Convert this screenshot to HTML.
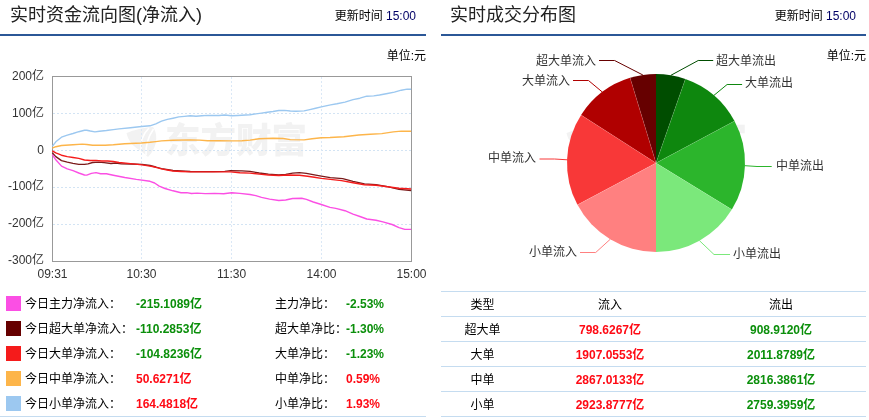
<!DOCTYPE html>
<html><head><meta charset="utf-8">
<style>
html,body{margin:0;padding:0;background:#fff;}
body{width:869px;height:420px;position:relative;overflow:hidden;font-family:"Liberation Sans","Noto Sans CJK SC",sans-serif;font-size:12px;color:#000;}
.abs{position:absolute;white-space:nowrap;}
.title{font-size:18px;line-height:24px;top:3px;color:#222;font-family:"Liberation Sans","Noto Sans CJK SC",sans-serif;}
.upd{font-size:12px;line-height:16px;top:8px;color:#000;}
.upd b{font-weight:normal;color:#000066;}
.bar{position:absolute;height:2px;top:34px;background:#2b5797;}
.unit{font-size:12px;line-height:16px;top:48px;}
.row{position:absolute;left:0;width:426px;height:25px;}
.sq{position:absolute;left:6px;top:5px;width:15px;height:15px;}
.lab{position:absolute;left:25px;top:5px;line-height:16px;}
.val{position:absolute;left:136px;top:5px;line-height:16px;font-weight:bold;}
.lab2{position:absolute;left:275px;top:5px;line-height:16px;}
.val2{position:absolute;left:346px;top:5px;line-height:16px;font-weight:bold;}
.g{color:#0b8f0b;}
.r{color:#ff0a14;}
.hl{position:absolute;height:1px;background:#c5dcf0;}
table{position:absolute;left:441px;top:291px;width:425px;border-collapse:collapse;table-layout:fixed;}
td{height:22px;padding:2px 0 0 0;border-top:1px solid #c5dcf0;border-bottom:1px solid #c5dcf0;text-align:center;font-size:12px;line-height:16px;}
td.n{font-weight:bold;}
svg text{font-family:"Liberation Sans","Noto Sans CJK SC",sans-serif;font-size:12px;fill:#333;}
</style></head><body>
<div class="abs title" style="left:10px;">实时资金流向图(净流入)</div>
<div class="abs upd" style="right:453px;">更新时间 <b>15:00</b></div>
<div class="bar" style="left:0;width:426px;"></div>
<div class="abs unit" style="right:443px;">单位:元</div>

<div class="abs title" style="left:450px;">实时成交分布图</div>
<div class="abs upd" style="right:13px;">更新时间 <b>15:00</b></div>
<div class="bar" style="left:441px;width:425px;"></div>
<div class="abs unit" style="right:3px;">单位:元</div>

<svg class="abs" style="left:0;top:0;" width="869" height="420" viewBox="0 0 869 420">
<!-- watermark -->
<g>
<text x="165" y="153" textLength="142" lengthAdjust="spacingAndGlyphs" style="font-size:35px;font-weight:900;fill:#f2f2f2;font-family:'Noto Sans CJK SC',sans-serif;">东方财富</text>
<path fill="#f2f2f2" d="M126.5,133 C134,130 144,127.5 153,127 C158,134 158,147 148,157 C145,154 141,151 137,148.5 C132,145 128,140 126.5,133Z"/>
<path fill="none" stroke="#fff" stroke-width="1.6" d="M149,128 C143,134 140,142 141,151 M153.5,129 C148,137 145.5,146 146,155"/>
</g>
<g transform="translate(440,0)">
<text x="165" y="153" textLength="142" lengthAdjust="spacingAndGlyphs" style="font-size:35px;font-weight:900;fill:#f2f2f2;font-family:'Noto Sans CJK SC',sans-serif;">东方财富</text>
<path fill="#f2f2f2" d="M126.5,133 C134,130 144,127.5 153,127 C158,134 158,147 148,157 C145,154 141,151 137,148.5 C132,145 128,140 126.5,133Z"/>
<path fill="none" stroke="#fff" stroke-width="1.6" d="M149,128 C143,134 140,142 141,151 M153.5,129 C148,137 145.5,146 146,155"/>
</g>
<!-- grid -->
<g stroke="#d3e4f4" stroke-width="1" stroke-dasharray="2,2" fill="none">
<line x1="53" y1="113.5" x2="411" y2="113.5"/>
<line x1="53" y1="150.5" x2="411" y2="150.5"/>
<line x1="53" y1="187.5" x2="411" y2="187.5"/>
<line x1="53" y1="224.5" x2="411" y2="224.5"/>
<line x1="141.5" y1="77" x2="141.5" y2="261" stroke="#dbe8f6"/>
<line x1="231.5" y1="77" x2="231.5" y2="261" stroke="#dbe8f6"/>
<line x1="321.5" y1="77" x2="321.5" y2="261" stroke="#dbe8f6"/>
</g>
<rect x="52.5" y="76.5" width="359" height="185" fill="none" stroke="#999" stroke-width="1"/>
<g text-anchor="end">
<text x="44" y="79.5">200亿</text>
<text x="44" y="116.5">100亿</text>
<text x="44" y="153.5">0</text>
<text x="44" y="190">-100亿</text>
<text x="44" y="227">-200亿</text>
<text x="44" y="264">-300亿</text>
</g>
<g text-anchor="middle">
<text x="52.5" y="278">09:31</text>
<text x="141.5" y="278">10:30</text>
<text x="231.5" y="278">11:30</text>
<text x="321.5" y="278">14:00</text>
<text x="411.5" y="278">15:00</text>
</g>
<polyline fill="none" stroke="#9cc8f0" stroke-width="1.4" stroke-linejoin="round" points="52.3,146.4 55.8,141.8 61.5,137.2 67.3,135.1 73.0,133.5 78.8,131.7 84.5,130.3 86.8,130.2 90.3,131.0 94.9,131.9 99.5,131.2 106.4,130.5 113.3,129.6 119.0,128.9 130.5,127.7 141.5,126.5 150.0,125.8 155.8,123.8 161.5,121.2 167.3,119.4 173.0,118.2 178.8,116.9 184.5,116.4 190.3,115.8 196.0,116.2 201.8,115.7 207.5,115.4 219.0,115.5 224.8,115.0 231.7,115.7 237.5,115.5 250.0,114.8 255.8,113.9 261.5,113.1 267.3,112.3 273.0,111.5 278.8,110.5 284.5,110.4 290.3,111.0 296.0,111.2 304.1,110.9 309.8,109.6 315.6,108.2 321.3,106.9 330.6,104.9 336.9,103.8 345.0,102.1 353.0,99.6 359.9,98.2 366.8,96.2 373.7,95.9 379.5,95.0 387.5,93.5 394.4,92.1 401.3,90.2 407.1,89.1 411.1,89.3"/>
<polyline fill="none" stroke="#fdb54a" stroke-width="1.4" stroke-linejoin="round" points="52.3,148.2 55.8,146.7 61.5,145.5 73.0,144.7 82.2,144.1 86.8,144.5 92.6,145.2 105.2,145.2 113.3,144.7 124.8,143.7 141.5,143.0 150.0,142.3 155.8,141.6 161.5,140.9 173.0,140.3 190.3,139.9 199.5,140.1 207.5,140.8 219.0,140.8 230.5,140.9 242.0,140.8 250.0,140.1 259.2,138.7 273.0,138.3 283.4,138.5 290.3,139.6 304.1,139.9 312.1,138.7 321.3,137.8 330.0,137.5 343.8,136.7 358.8,135.0 370.3,134.2 381.8,133.6 393.3,131.9 401.3,131.1 411.1,131.2"/>
<polyline fill="none" stroke="#fb4fe4" stroke-width="1.4" stroke-linejoin="round" points="52.3,154.6 55.8,159.8 61.5,166.1 67.3,168.8 73.0,170.7 78.8,173.0 84.5,175.0 86.8,175.1 91.4,173.4 96.0,172.6 100.6,173.7 106.4,173.7 113.3,175.2 124.8,177.5 136.3,179.4 150.0,181.3 154.6,183.0 159.2,186.1 165.0,188.5 173.0,190.8 181.0,192.8 186.8,192.6 191.4,193.5 197.2,193.1 205.2,193.6 214.4,193.4 223.6,193.7 231.7,192.8 239.8,193.4 250.0,194.5 255.8,195.6 261.5,197.4 269.6,199.1 278.8,200.5 285.7,200.0 292.6,198.5 301.8,198.3 306.4,199.4 313.3,202.0 321.3,204.5 330.0,207.4 335.8,208.4 345.0,210.7 353.0,214.2 359.9,216.5 366.8,219.0 376.0,220.2 382.9,221.9 392.1,224.5 399.0,227.6 404.8,229.4 411.1,229.4"/>
<polyline fill="none" stroke="#7a1a1a" stroke-width="1.3" stroke-linejoin="round" points="52.3,152.7 55.8,156.6 61.5,160.6 67.3,162.1 73.0,163.4 78.8,164.3 84.5,164.4 88.0,163.8 92.6,162.5 98.3,162.1 104.1,162.7 111.0,163.5 115.6,163.0 121.3,163.8 130.5,164.0 142.0,164.4 150.0,165.5 155.8,167.0 161.5,168.7 173.0,170.5 181.0,171.0 190.3,171.5 201.8,171.7 213.3,171.7 224.8,171.4 230.5,170.7 242.0,170.8 250.0,171.4 259.2,173.0 268.4,174.1 278.8,174.9 285.7,174.4 292.6,173.2 299.5,172.6 306.4,173.4 314.4,174.9 321.3,176.1 330.3,177.7 342.7,178.7 353.0,181.3 364.5,183.8 376.0,184.7 387.5,186.7 399.0,189.3 411.1,190.5"/>
<polyline fill="none" stroke="#f51b1b" stroke-width="1.4" stroke-linejoin="round" points="52.3,150.8 55.8,152.9 61.5,155.2 67.3,156.6 73.0,157.5 78.8,158.4 84.5,160.0 90.3,160.5 96.0,160.4 101.8,161.0 107.5,161.0 113.3,161.5 119.0,162.5 130.5,163.6 142.0,164.9 150.0,166.1 155.8,167.3 161.5,168.9 167.3,170.0 173.0,171.0 181.0,171.5 190.3,171.9 201.8,171.9 213.3,171.9 224.8,171.9 230.5,171.9 239.8,172.7 250.0,173.1 259.2,174.1 268.4,175.0 278.8,175.5 288.0,175.0 299.5,175.3 307.5,176.2 314.4,177.2 321.3,178.4 330.3,179.4 341.5,180.6 353.0,182.7 364.5,184.7 376.0,185.2 387.5,186.7 399.0,188.2 411.1,189.0"/>
<path d="M656,163 L656.00,74.00 A89,89 0 0 1 685.35,78.98 Z" fill="#004d00"/>
<path d="M656,163 L685.35,78.98 A89,89 0 0 1 734.49,121.05 Z" fill="#0e870e"/>
<path d="M656,163 L734.49,121.05 A89,89 0 0 1 731.85,209.56 Z" fill="#2cb52c"/>
<path d="M656,163 L731.85,209.56 A89,89 0 0 1 656.00,252.00 Z" fill="#7be87b"/>
<path d="M656,163 L656.00,74.00 A89,89 0 0 0 630.10,77.85 Z" fill="#660000"/>
<path d="M656,163 L630.10,77.85 A89,89 0 0 0 581.09,114.94 Z" fill="#b00000"/>
<path d="M656,163 L581.09,114.94 A89,89 0 0 0 577.46,204.86 Z" fill="#f83838"/>
<path d="M656,163 L577.46,204.86 A89,89 0 0 0 656.00,252.00 Z" fill="#ff8080"/>
<g stroke="rgba(255,255,255,0.2)" stroke-width="0.6"><line x1="656" y1="163" x2="685.35" y2="78.98"/>
<line x1="656" y1="163" x2="734.49" y2="121.05"/>
<line x1="656" y1="163" x2="731.85" y2="209.56"/>
<line x1="656" y1="163" x2="630.10" y2="77.85"/>
<line x1="656" y1="163" x2="581.09" y2="114.94"/>
<line x1="656" y1="163" x2="577.46" y2="204.86"/></g>
<g fill="none" stroke-width="1">
<polyline stroke="#660000" points="642.9,75 614.6,60.5 599,60.5"/>
<polyline stroke="#b00000" points="602.3,92 588.5,80.5 573,80.5"/>
<polyline stroke="#f83838" points="567.2,159.8 554.5,159 539.5,159"/>
<polyline stroke="#ff8080" points="610.2,239.3 595.7,252.5 580,252.5"/>
<polyline stroke="#004d00" points="670.9,75.3 698.2,60.5 713.2,60.5"/>
<polyline stroke="#0e870e" points="713.9,95.4 727.1,84.5 742.1,84.5"/>
<polyline stroke="#2cb52c" points="745,165.7 757,166.5 771.7,166.5"/>
<polyline stroke="#7be87b" points="699.5,240.7 714,254.5 730,254.5"/>
</g>
<g text-anchor="end">
<text x="596" y="65">超大单流入</text>
<text x="570" y="84.5">大单流入</text>
<text x="536" y="162">中单流入</text>
<text x="577" y="256">小单流入</text>
</g>
<g text-anchor="start">
<text x="716" y="65">超大单流出</text>
<text x="745" y="87">大单流出</text>
<text x="776" y="170">中单流出</text>
<text x="733" y="258">小单流出</text>
</g>
</svg>

<div class="row" style="top:291px;"><div class="sq" style="background:#fb4fe4;"></div><div class="lab">今日主力净流入：</div><div class="val g">-215.1089亿</div><div class="lab2">主力净比：</div><div class="val2 g">-2.53%</div></div>
<div class="row" style="top:316px;"><div class="sq" style="background:#660000;"></div><div class="lab">今日超大单净流入：</div><div class="val g">-110.2853亿</div><div class="lab2">超大单净比：</div><div class="val2 g">-1.30%</div></div>
<div class="row" style="top:341px;"><div class="sq" style="background:#f51b1b;"></div><div class="lab">今日大单净流入：</div><div class="val g">-104.8236亿</div><div class="lab2">大单净比：</div><div class="val2 g">-1.23%</div></div>
<div class="row" style="top:366px;"><div class="sq" style="background:#fdb54a;"></div><div class="lab">今日中单净流入：</div><div class="val r">50.6271亿</div><div class="lab2">中单净比：</div><div class="val2 r">0.59%</div></div>
<div class="row" style="top:391px;"><div class="sq" style="background:#9cc8f0;"></div><div class="lab">今日小单净流入：</div><div class="val r">164.4818亿</div><div class="lab2">小单净比：</div><div class="val2 r">1.93%</div></div>
<div class="hl" style="left:0;top:416px;width:426px;"></div>

<table>
<colgroup><col style="width:83px"><col style="width:172px"><col style="width:170px"></colgroup>
<tr><td>类型</td><td>流入</td><td>流出</td></tr>
<tr><td>超大单</td><td class="n r">798.6267亿</td><td class="n g">908.9120亿</td></tr>
<tr><td>大单</td><td class="n r">1907.0553亿</td><td class="n g">2011.8789亿</td></tr>
<tr><td>中单</td><td class="n r">2867.0133亿</td><td class="n g">2816.3861亿</td></tr>
<tr><td>小单</td><td class="n r">2923.8777亿</td><td class="n g">2759.3959亿</td></tr>
</table>
</body></html>
